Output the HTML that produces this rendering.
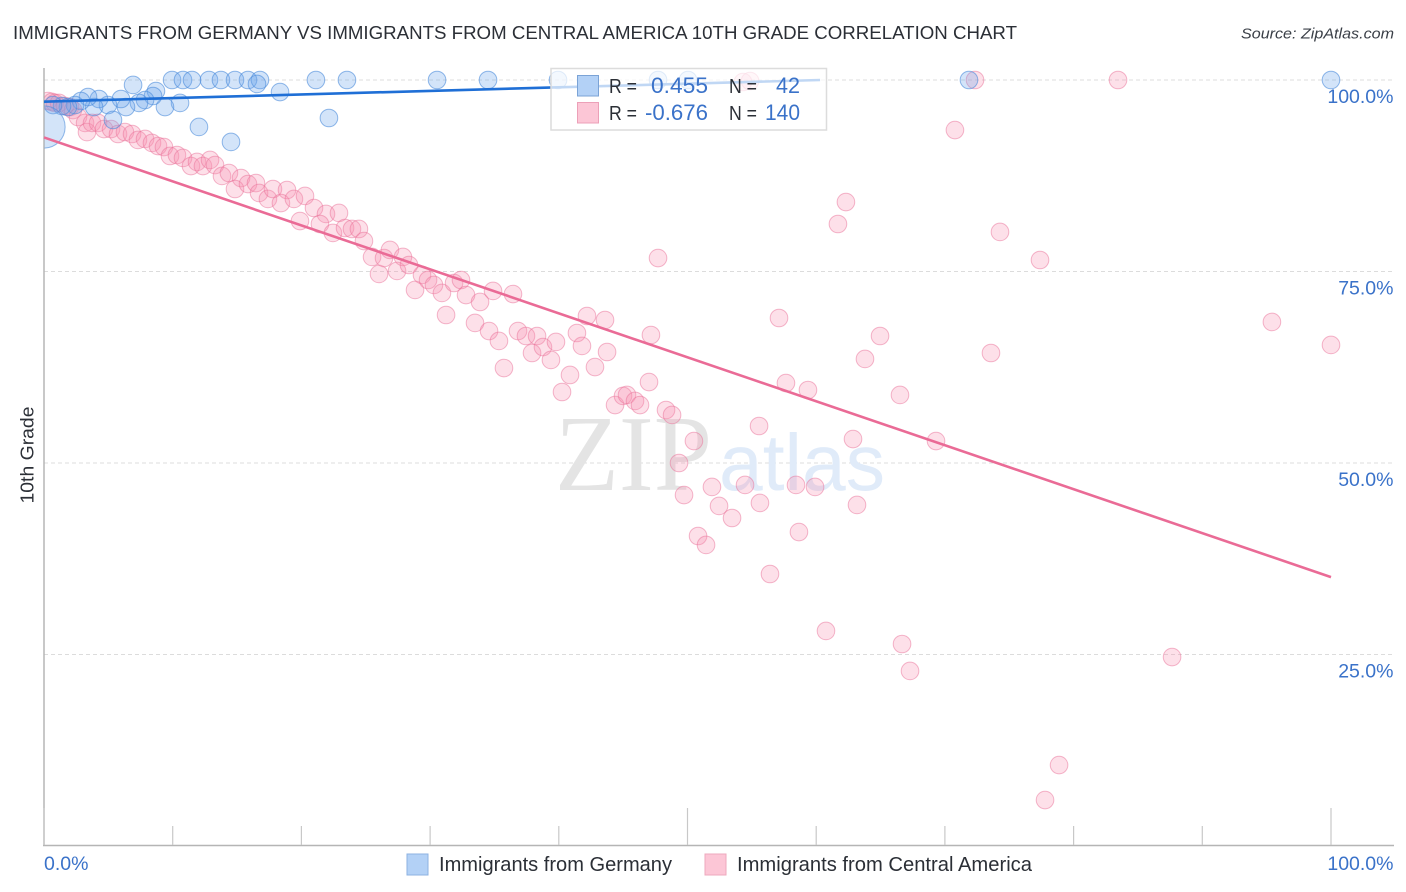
<!DOCTYPE html>
<html lang="en">
<head>
<meta charset="utf-8">
<title>Immigrants from Germany vs Immigrants from Central America 10th Grade Correlation Chart</title>
<style>
html,body{margin:0;padding:0;background:#fff;width:1406px;height:892px;overflow:hidden}
svg{display:block;font-family:"Liberation Sans",sans-serif}
</style>
</head>
<body>
<svg id="chart" xmlns="http://www.w3.org/2000/svg" width="1406" height="892" viewBox="0 0 1406 892">
  <defs>
    <clipPath id="plot-clip"><rect x="44.5" y="60" width="1350" height="785"/></clipPath>
  </defs>
  <text x="13" y="39" font-size="18.5" fill="#2b2f36" textLength="1004" lengthAdjust="spacingAndGlyphs">IMMIGRANTS FROM GERMANY VS IMMIGRANTS FROM CENTRAL AMERICA 10TH GRADE CORRELATION CHART</text>
  <text x="1241" y="38.5" font-size="15" font-style="italic" fill="#3a3f47" textLength="153" lengthAdjust="spacingAndGlyphs">Source: ZipAtlas.com</text>

  <g id="grid"></g>
  <g id="watermark">
    <text x="555" y="490" font-family="'Liberation Serif',serif" font-size="108" fill="#e4e4e4" textLength="157" lengthAdjust="spacingAndGlyphs">ZIP</text>
    <text x="719" y="490" font-size="80" fill="#e0ebf9" textLength="166" lengthAdjust="spacingAndGlyphs">atlas</text>
  </g>
  <g id="axes"></g>
  <g id="pink-points" clip-path="url(#plot-clip)"></g>
  <g id="blue-points" clip-path="url(#plot-clip)"></g>
  <g id="trend-lines"></g>
  <g id="tick-labels"></g>

  <text transform="translate(33.5,455) rotate(-90)" text-anchor="middle" font-size="18.5" fill="#2b2f36" textLength="97" lengthAdjust="spacingAndGlyphs">10th Grade</text>

  <g>
    <rect x="551" y="68.5" width="275.5" height="61.5" fill="#fff" fill-opacity="0.72" stroke="#dcdcdc" stroke-width="1.5"/>
    <rect x="577.5" y="75.5" width="21" height="20.5" fill="#b3d1f6" stroke="#7ba3d6" stroke-width="1"/>
    <rect x="577.5" y="102.5" width="21" height="20.5" fill="#fcc6d6" stroke="#ecA0b8" stroke-width="1"/>
    <text x="609" y="93" font-size="20" fill="#2b2f36" textLength="28" lengthAdjust="spacingAndGlyphs">R =</text>
    <text x="651" y="93" font-size="22" fill="#3a72c9" textLength="57" lengthAdjust="spacingAndGlyphs">0.455</text>
    <text x="729" y="93" font-size="20" fill="#2b2f36" textLength="28" lengthAdjust="spacingAndGlyphs">N =</text>
    <text x="776" y="93" font-size="22" fill="#3a72c9" textLength="24" lengthAdjust="spacingAndGlyphs">42</text>
    <text x="609" y="120" font-size="20" fill="#2b2f36" textLength="28" lengthAdjust="spacingAndGlyphs">R =</text>
    <text x="645" y="120" font-size="22" fill="#3a72c9" textLength="63" lengthAdjust="spacingAndGlyphs">-0.676</text>
    <text x="729" y="120" font-size="20" fill="#2b2f36" textLength="28" lengthAdjust="spacingAndGlyphs">N =</text>
    <text x="765" y="120" font-size="22" fill="#3a72c9" textLength="35" lengthAdjust="spacingAndGlyphs">140</text>
  </g>

  <g>
    <rect x="407" y="854" width="21" height="21" fill="#b3d1f6" stroke="#8db2e2" stroke-width="1"/>
    <text x="439" y="871" font-size="20" fill="#2b2f36" textLength="233" lengthAdjust="spacingAndGlyphs">Immigrants from Germany</text>
    <rect x="705" y="854" width="21" height="21" fill="#fcc6d6" stroke="#eea8bd" stroke-width="1"/>
    <text x="737" y="871" font-size="20" fill="#2b2f36" textLength="295" lengthAdjust="spacingAndGlyphs">Immigrants from Central America</text>
  </g>
</svg>
<script>
const yTickValues = [100, 75, 50, 25];
const yTickLabels = ["100.0%", "75.0%", "50.0%", "25.0%"];
const xTickValues = [0, 10, 20, 30, 40, 50, 60, 70, 80, 90, 100];
const xMajorTicks = [0, 50, 100];
const xEndLabels = ["0.0%", "100.0%"];

const germanyX = [6.92,9.95,10.8,11.5,12.82,13.75,14.84,15.85,16.78,16.55,18.34,21.13,23.54,30.54,34.5,39.94,47.71,50.04,71.87,100,22.14,12.04,14.53,10.57,9.4,8.7,8.47,7.85,7.38,6.37,5.98,4.97,5.36,4.27,3.89,3.42,2.87,2.41,1.86,1.4,0.7,0];
const germanyY = [99.35,100,100,100,100,100,100,100,100,99.48,98.43,100,100,100,100,100,100,100,100,100,95.04,93.87,91.91,97,96.47,98.56,97.91,97.39,97,96.47,97.52,96.73,94.78,97.52,96.47,97.78,97.26,96.73,96.47,96.6,96.73,93.87];
const germanyWeight = [1,1,1,1,1,1,1,1,1,1,1,1,1,1,1,1,1,1,1,1,1,1,1,1,1,1,1,1,1,1,1,1,1,1,1,1,1,1,1,1,1,2.4];

const centralAmericaX = [0.31,0.62,0.85,1.17,1.63,2.02,2.25,2.64,3.19,3.34,3.73,4.2,4.66,5.21,5.75,6.29,6.84,7.3,7.85,8.39,8.86,9.32,9.79,10.33,10.8,11.42,11.89,12.35,12.9,13.29,13.83,14.37,15.31,14.84,15.85,16.47,16.71,17.4,17.79,18.88,18.41,19.42,20.28,20.98,19.89,21.91,22.92,21.44,22.45,23.39,23.93,24.47,24.86,25.49,26.03,26.42,26.88,27.43,27.89,28.36,28.83,29.37,29.84,30.3,30.92,31.24,31.86,32.4,32.79,33.49,33.88,34.58,34.89,35.35,35.74,36.44,36.83,37.45,37.92,38.31,38.77,39.39,39.78,40.25,40.87,41.41,41.8,42.19,42.81,43.59,43.75,44.37,44.99,45.3,45.92,46.31,47.01,47.16,47.71,48.33,48.8,49.34,49.73,50.5,50.82,51.44,51.9,52.45,53.46,54.47,55.56,55.63,56.41,57.11,57.65,58.43,58.66,59.36,59.91,60.76,61.69,62.31,62.86,63.17,63.79,64.96,66.51,66.67,67.29,69.31,70.78,72.34,73.58,74.28,77.39,77.78,78.87,83.45,87.65,95.41,100,54.31,54.86];
const centralAmericaY = [97.26,97.13,97,97,96.6,96.47,96.08,95.17,94.39,93.2,94.39,94.39,93.6,93.6,92.95,93.21,92.95,92.17,92.3,91.78,91.38,91.25,90.08,90.21,89.82,88.77,89.3,88.77,89.56,88.9,87.47,87.86,87.2,85.77,86.42,86.55,85.25,84.47,85.77,85.64,83.94,84.47,84.86,83.29,81.59,82.51,82.64,81.2,80.03,80.68,80.55,80.55,78.98,76.9,74.68,76.76,77.81,75.07,76.9,75.85,72.59,74.55,73.89,73.24,72.2,69.32,73.5,73.89,71.93,68.28,71.02,67.23,72.46,65.93,62.4,72.06,67.23,66.58,64.36,66.58,65.14,63.45,65.8,59.27,61.49,66.97,65.28,69.19,62.53,68.67,64.49,57.57,58.75,58.88,58.1,57.57,60.57,66.71,76.76,56.92,56.27,50,45.82,52.87,40.47,39.3,46.87,44.39,42.82,47.13,54.83,44.78,35.51,68.93,60.44,47.13,40.99,59.53,46.87,28.07,81.2,84.07,53.13,44.52,63.58,66.58,58.88,26.37,22.85,52.87,93.47,100,64.36,80.16,76.5,6,10.57,100,24.67,68.41,65.41,99.74,99.87];

const germanyTrendX = [0, 60.3];
const germanyTrendY = [97.17, 100];
const centralAmericaTrendX = [0, 100];
const centralAmericaTrendY = [92.5, 35.1];

const NS = "http://www.w3.org/2000/svg";
function xAxis(v) { return 44 + v * 12.87; }
function yAxis(v) { return 846 - v * 7.66; }
function make(tag, attrs, parent) {
  const el = document.createElementNS(NS, tag);
  for (const k in attrs) el.setAttribute(k, attrs[k]);
  parent.appendChild(el);
  return el;
}

const grid = document.getElementById("grid");
yTickValues.forEach(function (v) {
  const line = make("line", { x1: 44, x2: 1394, y1: yAxis(v), y2: yAxis(v), stroke: "#dcdcdc", "stroke-width": 1, "stroke-dasharray": "4 3" }, grid);
  
  
});

const axes = document.getElementById("axes");
const yLine = make("line", { x1: 44, x2: 44, y1: 68, y2: 845.5, stroke: "#b5b5b5", "stroke-width": 1.5 }, axes);


const xLine = make("line", { x1: 43, x2: 1394, y1: 845.5, y2: 845.5, stroke: "#b5b5b5", "stroke-width": 1.5 }, axes);


xTickValues.forEach(function (v) {
  const tall = xMajorTicks.indexOf(v) >= 0;
  const tick = make("line", { x1: xAxis(v), x2: xAxis(v), y1: tall ? 808 : 826, y2: 845, stroke: "#c8c8c8", "stroke-width": 1.2 }, axes);
  
  
});

const pinkGroup = document.getElementById("pink-points");
centralAmericaX.forEach(function (v, i) {
  const dot = make("circle", { cx: xAxis(v), cy: yAxis(centralAmericaY[i]), r: 8.8, fill: "#f78fb0", "fill-opacity": 0.28, stroke: "#ea6f98", "stroke-opacity": 0.5, "stroke-width": 1 }, pinkGroup);
  
  
});

const blueGroup = document.getElementById("blue-points");
germanyX.forEach(function (v, i) {
  const dot = make("circle", { cx: xAxis(v), cy: yAxis(germanyY[i]), r: 8.8 * germanyWeight[i], fill: "#6ea6ea", "fill-opacity": 0.3, stroke: "#4a8ada", "stroke-opacity": 0.6, "stroke-width": 1 }, blueGroup);
  
  
});

const trends = document.getElementById("trend-lines");
const blueTrend = make("line", { x1: xAxis(germanyTrendX[0]), y1: yAxis(germanyTrendY[0]), x2: xAxis(germanyTrendX[1]), y2: yAxis(germanyTrendY[1]), stroke: "#1f6fd6", "stroke-width": 2.6 }, trends);


const pinkTrend = make("line", { x1: xAxis(centralAmericaTrendX[0]), y1: yAxis(centralAmericaTrendY[0]), x2: xAxis(centralAmericaTrendX[1]), y2: yAxis(centralAmericaTrendY[1]), stroke: "#ea6b96", "stroke-width": 2.6 }, trends);



const labels = document.getElementById("tick-labels");
yTickValues.forEach(function (v, i) {
  const t = make("text", { x: 1393.5, y: yAxis(v) + 23, "text-anchor": "end", "font-size": 19.5, fill: "#3a72c9" }, labels);
  
  
  t.textContent = yTickLabels[i];
});
const xLabelFirst = make("text", { x: 44, y: 870, "font-size": 19.5, fill: "#3a72c9" }, labels);


xLabelFirst.textContent = xEndLabels[0];
const xLabelLast = make("text", { x: 1393.5, y: 870, "text-anchor": "end", "font-size": 19.5, fill: "#3a72c9" }, labels);


xLabelLast.textContent = xEndLabels[1];
</script>
</body>
</html>
